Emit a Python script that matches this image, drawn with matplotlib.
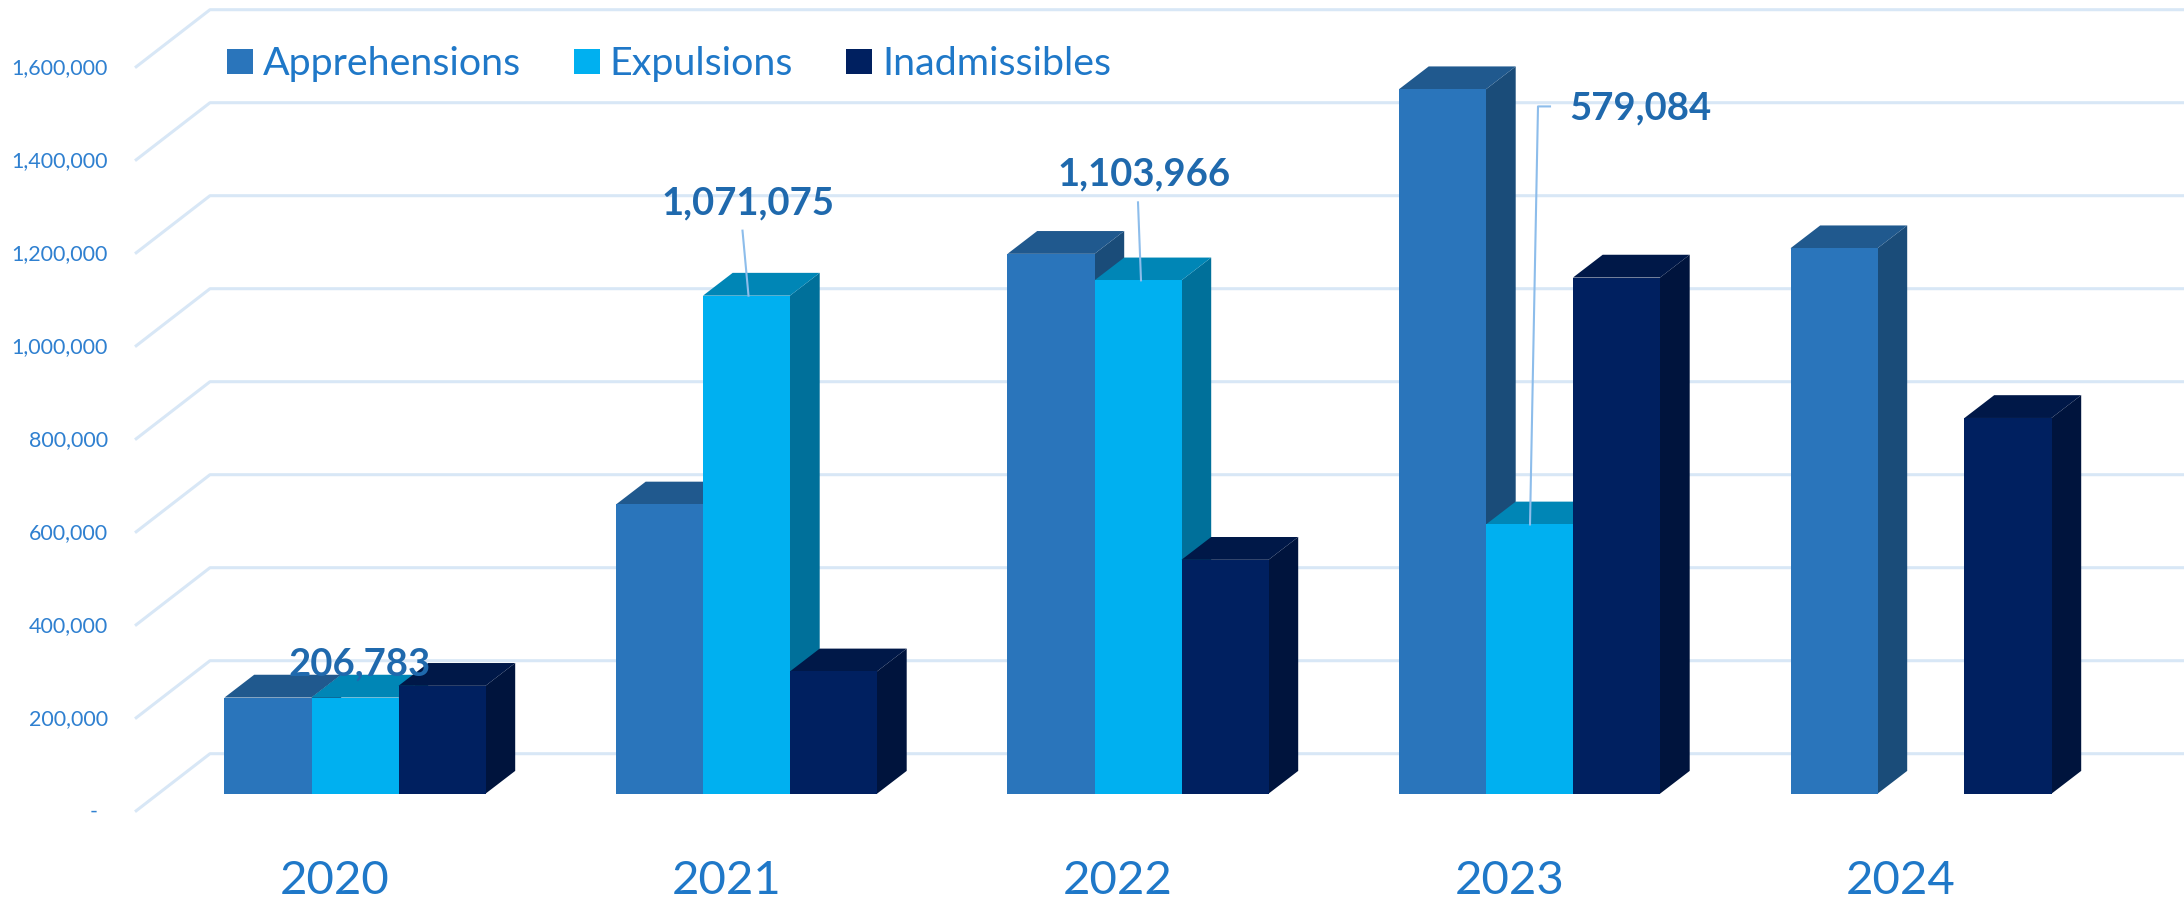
import matplotlib
matplotlib.use("Agg")
import matplotlib.pyplot as plt
from matplotlib.patches import Polygon, Patch

plt.rcParams['font.family'] = ['Lato', 'DejaVu Sans']

years = ['2020', '2021', '2022', '2023', '2024']
apprehensions = [206783, 622000, 1161000, 1515000, 1173000]
expulsions = [206783, 1071075, 1103966, 579084, 0]
inadmissibles = [232000, 263000, 503000, 1110000, 808000]
y_ticks = [0, 200000, 400000, 600000, 800000, 1000000, 1200000, 1400000, 1600000]
series_names = ['Apprehensions', 'Expulsions', 'Inadmissibles']

front_cols = ['#2A75BB', '#00B0F0', '#002060']
top_cols = ['#20598E', '#0086B6', '#001848']
side_cols = ['#1A4C79', '#00709A', '#00143D']
tick_col = '#2F80D0'
text_col = '#1F78C8'
label_col = '#1F69AD'
grid_col = '#D8E7F6'

W, H = 2184, 899
fig = plt.figure(figsize=(W / 100, H / 100), dpi=100)
ax = fig.add_axes([0, 0, 1, 1])

##pixel sizes of the picture turned into data units
px_x = 1 / 391.5
px_y = 200000 / 93
x_zero = 355
y_zero = 793.7
ax.set_xlim(-x_zero * px_x, (W - x_zero) * px_x)
ax.set_ylim(-(H - y_zero) * px_y, y_zero * px_y)
ax.axis('off')

xmin, xmax = ax.get_xlim()

##floor/back wall lines
for v in y_ticks:
    xs = [xmin + 135 * px_x, xmin + 210 * px_x, xmax]
    ys = [v - 18 * px_y, v + 40 * px_y, v + 40 * px_y]
    ax.plot(xs, ys, color=grid_col, lw=2.2, zorder=1, solid_capstyle='butt')
    label = '{:,}'.format(v) if v > 0 else '-'
    right = 108 if v > 0 else 98
    ax.text(xmin + right * px_x, v - 18 * px_y, label, color=tick_col, fontsize=15.5,
            ha='right', va='center', zorder=6)

##bars, painted left to right so each one covers the side of the one before
bar_w = 87 * px_x
dep_x = 29.7 * px_x
dep_y = 22.8 * px_y
z = 2
for g in range(len(years)):
    vals = [apprehensions[g], expulsions[g], inadmissibles[g]]
    for s in range(3):
        if vals[s] == 0:
            continue
        x0 = g + (s - 1.5) * bar_w
        x1 = x0 + bar_w
        v = vals[s]
        ax.add_patch(Polygon([(x1, 0), (x1 + dep_x, dep_y), (x1 + dep_x, v + dep_y), (x1, v)],
                             closed=True, fc=side_cols[s], ec='none', zorder=z))
        ax.add_patch(Polygon([(x0, v), (x0 + dep_x, v + dep_y), (x1 + dep_x, v + dep_y), (x1, v)],
                             closed=True, fc=top_cols[s], ec='none', zorder=z))
        ax.bar(x0, v, width=bar_w, align='edge', color=front_cols[s], zorder=z + 0.5)
        z += 1

for g in range(len(years)):
    ax.text(g - 20 * px_x, -(881 - y_zero) * px_y, years[g], color=text_col, fontsize=34,
            ha='center', va='center', zorder=z)

##value labels with their leader lines
ax.text(5 * px_x, expulsions[0] + 33 * px_y, '{:,}'.format(expulsions[0]), color=label_col,
        fontsize=27.5, fontweight='bold', ha='center', va='center', zorder=z + 2)

ax.text(1 + 1 * px_x, expulsions[1] + 92 * px_y, '{:,}'.format(expulsions[1]), color=label_col,
        fontsize=27.5, fontweight='bold', ha='center', va='center', zorder=z + 2)
ax.plot([1 - 4 * px_x, 1 + 2 * px_x], [expulsions[1] + 65 * px_y, expulsions[1]],
        color='#8DBDEB', lw=1.5, zorder=z + 1)

ax.text(2 + 6 * px_x, expulsions[2] + 106 * px_y, '{:,}'.format(expulsions[2]), color=label_col,
        fontsize=27.5, fontweight='bold', ha='center', va='center', zorder=z + 2)
ax.plot([2 + 0 * px_x, 2 + 3 * px_x], [expulsions[2] + 78 * px_y, expulsions[2]],
        color='#8DBDEB', lw=1.5, zorder=z + 1)

ax.text(3 + 40 * px_x, expulsions[3] + 416 * px_y, '{:,}'.format(expulsions[3]), color=label_col,
        fontsize=27.5, fontweight='bold', ha='left', va='center', zorder=z + 2)
ax.plot([3 + 20.5 * px_x, 3 + 8.5 * px_x, 3 + 0.5 * px_x],
        [expulsions[3] + 418 * px_y, expulsions[3] + 418 * px_y, expulsions[3]],
        color='#8DBDEB', lw=1.5, zorder=z + 1)

handles = [Patch(fc=c, ec='none') for c in front_cols]
ax.legend(handles, series_names, ncol=3, frameon=False, fontsize=28.4, labelcolor=text_col,
          loc='center left', bbox_to_anchor=(227 / W, 1 - 64 / H), borderaxespad=0, borderpad=0,
          handlelength=0.66, handleheight=0.6, handletextpad=0.25, columnspacing=1.34)

fig.savefig('out.png', dpi=100, facecolor='white')
